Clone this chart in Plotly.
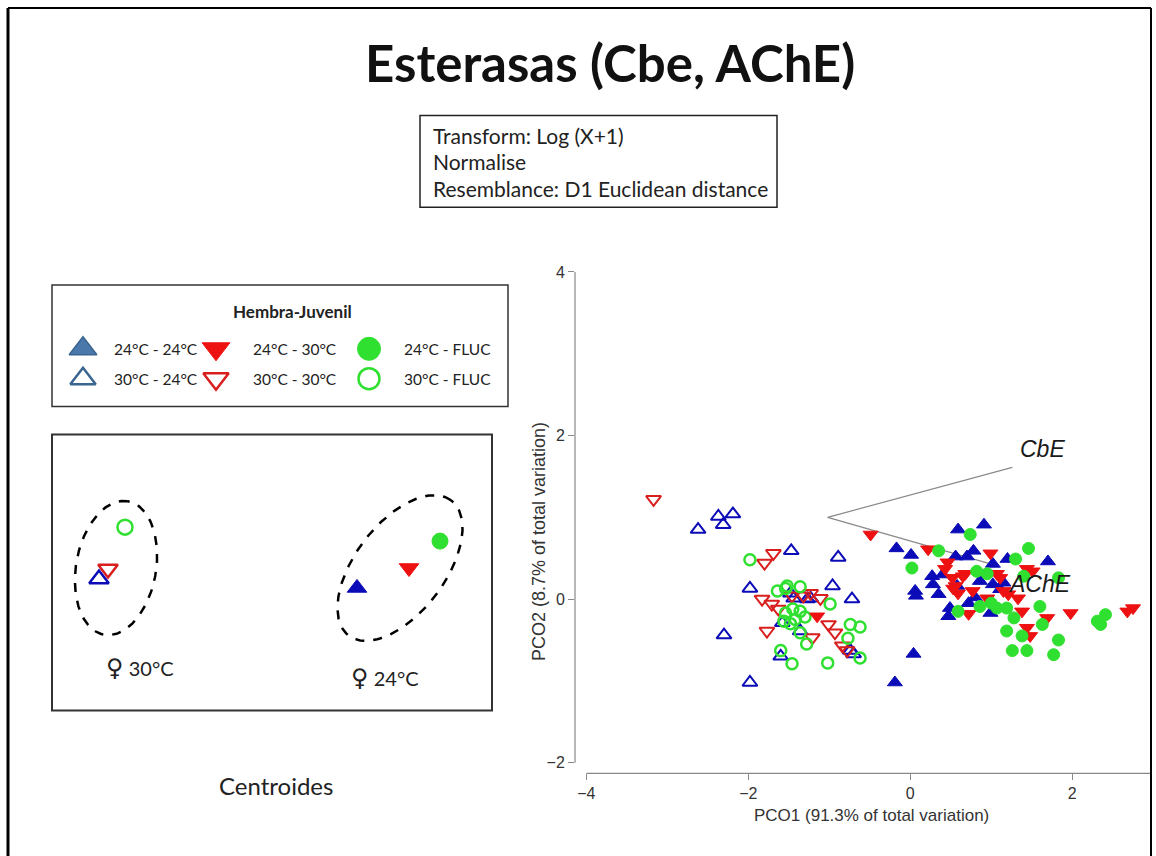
import numpy as np
import plotly.graph_objects as go

W, H = 1156, 856

# ---- PCO scores per group (Hembra-Juvenil) ----
a_x = [0.59, 0.91, -0.17, 0.01, 0.56, 0.70, 0.78, 1.20, 1.02, 0.27, 0.28, 0.06, 0.07, 0.35,
       0.86, 1.02, 0.49, 0.47, 0.72, 0.99, 0.58, 0.04, 1.70, -0.19, 1.11, 1.15, 0.40, 0.80]
a_y = [0.85, 0.91, 0.62, 0.54, 0.52, 0.52, 0.59, 0.49, 0.43, 0.28, 0.18, 0.10, 0.04, 0.06,
       0.22, 0.18, -0.11, -0.21, -0.05, -0.17, 0.16, -0.67, 0.46, -1.02, 0.12, 0.20, 0.30, 0.02]

b_x = [-2.62, -2.37, -2.31, -2.19, -1.47, -0.89, -1.98, -0.96, -0.72, -2.30, -1.98, -1.60,
       -0.70, -1.44, -1.27, -1.36, -1.58, -0.74, -1.48, -1.23]
b_y = [0.85, 1.01, 0.91, 1.04, 0.59, 0.51, 0.13, 0.16, 0.00, -0.44, -1.02, -0.70,
       -0.67, 0.01, 0.00, -0.39, -0.29, -0.63, 0.07, 0.01]

c_x = [-0.49, 0.22, 0.99, 0.43, 0.52, 0.68, 0.56, 0.59, 0.77, 0.95, 1.07, 0.72, 0.53, 0.65,
       1.38, 1.44, 1.48, 1.69, 1.51, 1.21, 1.33, 1.98, 2.68, 2.75, 1.11, 1.44, -1.15, 1.15, 0.46]
c_y = [0.79, 0.61, 0.56, 0.37, 0.26, 0.31, 0.16, 0.07, 0.10, 0.01, 0.31, -0.18, 0.13, 0.28,
       -0.15, -0.35, -0.45, -0.23, 0.34, 0.06, 0.01, -0.17, -0.15, -0.11, 0.26, 0.37, -0.21, 0.10, 0.45]

d_x = [-3.17, -1.69, -1.80, -1.83, -1.71, -1.63, -1.77, -1.11, -1.21, -1.01, -0.93, -0.84,
       -1.32, -1.46, -0.78, -1.23]
d_y = [1.22, 0.56, 0.44, 0.00, -0.06, -0.12, -0.39, 0.01, -0.47, -0.31, -0.41, -0.57,
       0.04, 0.04, -0.63, 0.07]

e_x = [0.74, 0.35, 0.02, 1.46, 1.30, 0.82, 0.95, 1.40, 1.83, 0.59, 0.86, 1.07, 1.19, 1.28,
       1.60, 1.63, 1.19, 1.38, 1.83, 1.26, 1.44, 1.77, 2.31, 2.41, 2.35, 1.00]
e_y = [0.79, 0.59, 0.38, 0.62, 0.49, 0.34, 0.31, 0.28, 0.26, -0.15, -0.09, -0.11, -0.11, -0.23,
       -0.09, -0.31, -0.39, -0.45, -0.50, -0.63, -0.63, -0.68, -0.27, -0.19, -0.31, -0.05]

f_x = [-1.98, -1.64, -1.54, -1.36, -0.99, -0.74, -0.62, -0.77, -0.62, -1.60, -1.46, -1.02,
       -1.28, -1.36, -1.56, -1.52, -1.54, -1.45, -1.36, -1.42, -1.30, -1.48]
f_y = [0.48, 0.10, 0.13, 0.15, -0.06, -0.31, -0.34, -0.48, -0.72, -0.63, -0.79, -0.78,
       -0.55, -0.41, -0.27, 0.16, -0.17, -0.12, -0.15, -0.25, -0.22, -0.30]

group_labels = ["24°C - 24°C", "30°C - 24°C", "24°C - 30°C", "30°C - 30°C", "24°C - FLUC", "30°C - FLUC"]

# ---- biplot vectors ----
vec_names = ["CbE", "AChE"]
vec_origin = (-1.02, 1.00)
vec_end_x = [1.26, 0.99]
vec_end_y = [1.61, 0.43]

# ---- centroid sketch (schematic panel units) ----
cen_x = [47, 56, 73, 305, 357, 388]
cen_y = [132, 142, 184, 123, 143, 170]
cen_labels = ["30°C", "24°C"]

BLUE = "#0B0BB8"
RED = "#EE1111"
RED_OPEN = "#D91E1E"
GREEN = "#30E030"
STEEL = "#4A78AA"
STEEL_D = "#3A6590"

styles = [
    ("triangle-up", BLUE, 13, 1),
    ("triangle-up-open", BLUE, 13, 2),
    ("triangle-down", RED, 13, 1),
    ("triangle-down-open", RED_OPEN, 13, 2),
    ("circle", GREEN, 12, 1),
    ("circle-open", GREEN, 11, 2.5),
]

fig = go.Figure()

# vectors drawn underneath the points
for name, ex, ey in zip(vec_names, vec_end_x, vec_end_y):
    fig.add_trace(go.Scatter(x=[vec_origin[0], ex], y=[vec_origin[1], ey], mode="lines",
                             line=dict(color="#8a8a8a", width=1.2), hoverinfo="skip",
                             showlegend=False))

series = [(a_x, a_y), (b_x, b_y), (c_x, c_y), (d_x, d_y), (e_x, e_y), (f_x, f_y)]
order = [1, 3, 5, 0, 2, 4]
for i in order:
    sx, sy = series[i]
    sym, col, size, lw = styles[i]
    fig.add_trace(go.Scatter(x=sx, y=sy, mode="markers", name=group_labels[i], showlegend=False,
                             marker=dict(symbol=sym, color=col, size=size,
                                         line=dict(color=col, width=lw))))

# vector labels
for name, ex, ey, dx, dy in zip(vec_names, vec_end_x, vec_end_y, [0.07, 0.19], [0.22, -0.24]):
    fig.add_annotation(x=ex + dx, y=ey + dy, xref="x", yref="y", text="<i>" + name + "</i>",
                       showarrow=False, xanchor="left", yanchor="middle",
                       font=dict(family="Liberation Sans", size=23, color="#1a1a1a"))

# ---- centroid panel ----
cen_styles = [styles[1], styles[3], ("circle-open", GREEN, 15, 2.5), styles[0], styles[2], ("circle", GREEN, 16, 1)]
for (sym, col, size, lw), cx, cy in zip(cen_styles, cen_x, cen_y):
    if sym.startswith("circle"):
        fig.add_trace(go.Scatter(x=[cx], y=[cy], mode="markers", xaxis="x2", yaxis="y2",
                                 showlegend=False, hoverinfo="skip",
                                 marker=dict(symbol=sym, color=col, size=size,
                                             line=dict(color=col, width=lw))))
    else:
        fig.add_trace(go.Scatter(x=[cx], y=[cy], mode="markers", xaxis="x2", yaxis="y2",
                                 showlegend=False, hoverinfo="skip",
                                 marker=dict(symbol=sym, color=col, size=17,
                                             line=dict(color=col, width=2.5 if "open" in sym else 1))))

# dashed grouping ellipses
t = np.linspace(0, 2 * np.pi, 200)
for (ecx, ecy, ea, eb, ang) in [(64, 143, 68, 40, 80), (348, 143, 85, 45, 53)]:
    th = np.deg2rad(ang)
    ex_ = ecx + ea * np.cos(t) * np.cos(th) - eb * np.sin(t) * np.sin(th)
    ey_ = ecy + ea * np.cos(t) * np.sin(th) + eb * np.sin(t) * np.cos(th)
    fig.add_trace(go.Scatter(x=ex_, y=ey_, mode="lines", xaxis="x2", yaxis="y2",
                             line=dict(color="black", width=2.5, dash="dash"),
                             showlegend=False, hoverinfo="skip"))

for lab, lx, ly in zip(cen_labels, [88, 333], [43, 33]):
    fig.add_annotation(x=lx, y=ly, xref="x2", yref="y2",
                       text='<span style="font-size:24px;font-family:DejaVu Sans">♀</span> ' + lab,
                       showarrow=False, xanchor="center", yanchor="middle",
                       font=dict(family="Lato", size=20, color="#222"))

# ---- legend panel ----
leg_cols = [31, 164, 317]
leg_rows = [58, 28]
leg_text_dx = [29, 35, 33]
leg_marks = [("triangle-up", STEEL, STEEL_D, 24, 1.5), ("triangle-up-open", STEEL_D, STEEL_D, 22, 2.5),
             ("triangle-down", RED, RED, 24, 1), ("triangle-down-open", RED_OPEN, RED_OPEN, 22, 2.5),
             ("circle", GREEN, GREEN, 23, 1), ("circle-open", GREEN, GREEN, 21, 2.5)]
for k, (sym, col, lc, size, lw) in enumerate(leg_marks):
    c, r = k // 2, k % 2
    fig.add_trace(go.Scatter(x=[leg_cols[c]], y=[leg_rows[r]], mode="markers", xaxis="x3", yaxis="y3",
                             showlegend=False, hoverinfo="skip",
                             marker=dict(symbol=sym, color=col, size=size, line=dict(color=lc, width=lw))))
    fig.add_annotation(x=leg_cols[c] + leg_text_dx[c], y=leg_rows[r], xref="x3", yref="y3",
                       text=group_labels[k], showarrow=False, xanchor="left", yanchor="middle",
                       font=dict(family="Lato", size=15.5, color="#222"))
fig.add_annotation(x=240, y=95, xref="x3", yref="y3", text="<b>Hembra-Juvenil</b>", showarrow=False,
                   xanchor="center", yanchor="middle",
                   font=dict(family="Lato", size=17, color="#222"))


def px(x):
    return x / W


def py(y):
    return 1 - y / H


shapes = [
    # slide frame
    dict(type="line", xref="paper", yref="paper", x0=px(8), x1=px(8), y0=py(5), y1=py(856),
         line=dict(color="black", width=3)),
    dict(type="line", xref="paper", yref="paper", x0=px(8), x1=px(1151), y0=py(5), y1=py(5),
         line=dict(color="black", width=2)),
    dict(type="line", xref="paper", yref="paper", x0=px(1151), x1=px(1151), y0=py(5), y1=py(856),
         line=dict(color="black", width=2)),
    # transform box
    dict(type="rect", xref="paper", yref="paper", x0=px(420), x1=px(777), y0=py(205), y1=py(113),
         line=dict(color="#222", width=1.5)),
    # legend box
    dict(type="rect", xref="x3 domain", yref="y3 domain", x0=0, x1=1, y0=0, y1=1,
         line=dict(color="#333", width=1.5)),
    # centroid box
    dict(type="rect", xref="x2 domain", yref="y2 domain", x0=0, x1=1, y0=0, y1=1,
         line=dict(color="#333", width=2)),
    # detached axis lines
    dict(type="line", xref="x", yref="y domain", x0=-4, x1=2.96, y0=0, y1=0,
         line=dict(color="#888", width=1.2)),
    dict(type="line", xref="x domain", yref="y", x0=0, x1=0, y0=-2, y1=4,
         line=dict(color="#888", width=1.2)),
]

for txt, yy in zip(["Transform: Log (X+1)", "Normalise", "Resemblance: D1 Euclidean distance"],
                   [133, 159, 186]):
    fig.add_annotation(x=px(431), y=py(yy), xref="paper", yref="paper", text=txt, showarrow=False,
                       xanchor="left", yanchor="middle", font=dict(family="Lato", size=21, color="#222"))

fig.add_annotation(x=px(610), y=py(60), xref="paper", yref="paper", text="<b>Esterasas (Cbe, AChE)</b>",
                   showarrow=False, xanchor="center", yanchor="middle",
                   font=dict(family="Lato", size=51, color="#111"))
fig.add_annotation(x=px(276), y=py(785), xref="paper", yref="paper", text="Centroides",
                   showarrow=False, xanchor="center", yanchor="middle",
                   font=dict(family="Lato", size=24, color="#222"))
fig.add_annotation(x=px(871), y=py(815), xref="paper", yref="paper",
                   text="PCO1 (91.3% of total variation)", showarrow=False,
                   xanchor="center", yanchor="middle",
                   font=dict(family="Liberation Sans", size=17, color="#333"))
fig.add_annotation(x=px(539), y=py(541), xref="paper", yref="paper", textangle=-90,
                   text="PCO2 (8.7% of total variation)", showarrow=False,
                   xanchor="center", yanchor="middle",
                   font=dict(family="Liberation Sans", size=18, color="#333"))

tickfont = dict(family="Liberation Sans", size=16, color="#333")
fig.update_layout(
    width=W, height=H, margin=dict(l=0, r=0, t=0, b=0),
    paper_bgcolor="white", plot_bgcolor="rgba(0,0,0,0)",
    showlegend=False, shapes=shapes,
    xaxis=dict(domain=[px(575), px(1150)], range=[-4.14, 2.96], tickvals=[-4, -2, 0, 2],
               ticks="outside", ticklen=6, tickcolor="#888", showline=False, showgrid=False,
               zeroline=False, tickfont=tickfont),
    yaxis=dict(domain=[py(773), py(265)], range=[-2.13, 4.06], tickvals=[-2, 0, 2, 4],
               ticks="outside", ticklen=6, tickcolor="#888", showline=False, showgrid=False,
               zeroline=False, tickfont=tickfont),
    xaxis2=dict(domain=[px(52), px(492)], range=[0, 440], visible=False, anchor="y2"),
    yaxis2=dict(domain=[py(710), py(433)], range=[0, 277], visible=False, anchor="x2"),
    xaxis3=dict(domain=[px(52), px(508)], range=[0, 456], visible=False, anchor="y3"),
    yaxis3=dict(domain=[py(405), py(283)], range=[0, 122], visible=False, anchor="x3"),
)

fig.write_html("out.html")
